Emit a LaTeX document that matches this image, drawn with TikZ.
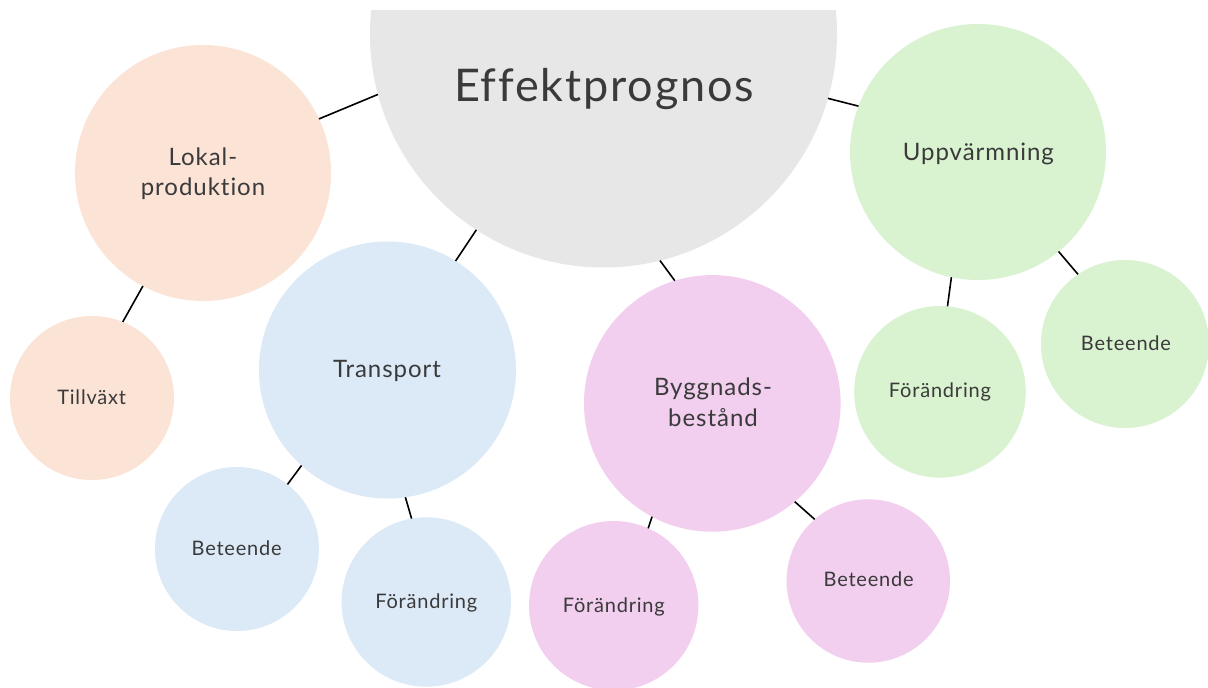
\documentclass[tikz,border=0pt]{standalone}
\usepackage{fontspec}
\setmainfont{Lato}[Ligatures={NoCommon}, LetterSpace=4.0]
\definecolor{cgray}{HTML}{E7E7E7}
\definecolor{cpeach}{HTML}{FBE3D6}
\definecolor{cblue}{HTML}{DCE9F6}
\definecolor{cpink}{HTML}{F2CEEF}
\definecolor{cgreen}{HTML}{D9F2D0}
\definecolor{ctext}{HTML}{3A3A3A}
\begin{document}
\begin{tikzpicture}[x=1pt,y=-1pt,
  bub/.style={circle, draw=none, inner sep=0pt, outer sep=0pt, minimum size=#1},
  lbl/.style={anchor=base, inner sep=0pt, text=ctext},
  big/.style={lbl, font=\fontsize{45}{50}\selectfont},
  mid/.style={lbl, font=\fontsize{24}{29}\selectfont},
  small/.style={lbl, font=\fontsize{20}{24}\selectfont},
  conn/.style={draw=black, line width=1.6pt}]
\useasboundingbox[fill=white] (0,0) rectangle (1208,688);
% circles
\begin{scope}
  \clip (0,10) rectangle (1208,688);
  \node[bub=467pt, fill=cgray] (eff) at (603.5,34) {};
\end{scope}
\node[bub=256pt, fill=cpeach] (lok) at (203,173) {};
\node[bub=164pt, fill=cpeach] (till) at (92,398) {};
\node[bub=257pt, fill=cblue] (trans) at (387.5,370) {};
\node[bub=164pt, fill=cblue] (tbet) at (237,549) {};
\node[bub=169.4pt, fill=cblue] (tfor) at (426.3,602) {};
\node[bub=256.6pt, fill=cpink] (bygg) at (712.3,403.4) {};
\node[bub=169.4pt, fill=cpink] (bfor) at (613.7,605.7) {};
\node[bub=163.4pt, fill=cpink] (bbet) at (868.3,581) {};
\node[bub=256pt, fill=cgreen] (upp) at (978,152) {};
\node[bub=171.6pt, fill=cgreen] (ufor) at (940,391.8) {};
\node[bub=168pt, fill=cgreen] (ubet) at (1125,344) {};
% texts
\node[big] (teff) at (604,101.7) {Effektprognos};
\node[mid] (tlok1) at (203,165.7) {Lokal-};
\node[mid] (tlok2) at (203,195) {produktion};
\node[small] (ttill) at (91.7,404.3) {Tillväxt};
\node[mid] (ttrans) at (387,377.3) {Transport};
\node[small] (ttbet) at (236.7,555) {Beteende};
\node[small] (ttfor) at (426.3,608.3) {Förändring};
\node[mid] (tbygg1) at (713,395.7) {Byggnads-};
\node[mid] (tbygg2) at (713,426) {bestånd};
\node[small] (tbfor) at (613.8,612.7) {Förändring};
\node[small] (tbbet) at (868.7,586.7) {Beteende};
\node[mid] (tupp) at (978.4,160.7) {Uppvärmning};
\node[small] (tufor) at (940,397.3) {Förändring};
\node[small] (tubet) at (1126,350.7) {Beteende};
% connectors
\draw[conn] (lok.25.8) -- (eff.195.3);
\draw[conn] (eff.237.3) -- (trans.58);
\draw[conn] (eff.284.9) -- (bygg.107.8);
\draw[conn] (eff.344.7) -- (upp.159.2);
\draw[conn] (lok.242.3) -- (till.68.1);
\draw[conn] (trans.228.6) -- (tbet.52.3);
\draw[conn] (trans.278.6) -- (tfor.100.4);
\draw[conn] (bygg.242.7) -- (bfor.66.3);
\draw[conn] (bygg.310.3) -- (bbet.131.7);
\draw[conn] (upp.258.2) -- (ufor.85);
\draw[conn] (upp.309.1) -- (ubet.124);
\end{tikzpicture}
\end{document}
